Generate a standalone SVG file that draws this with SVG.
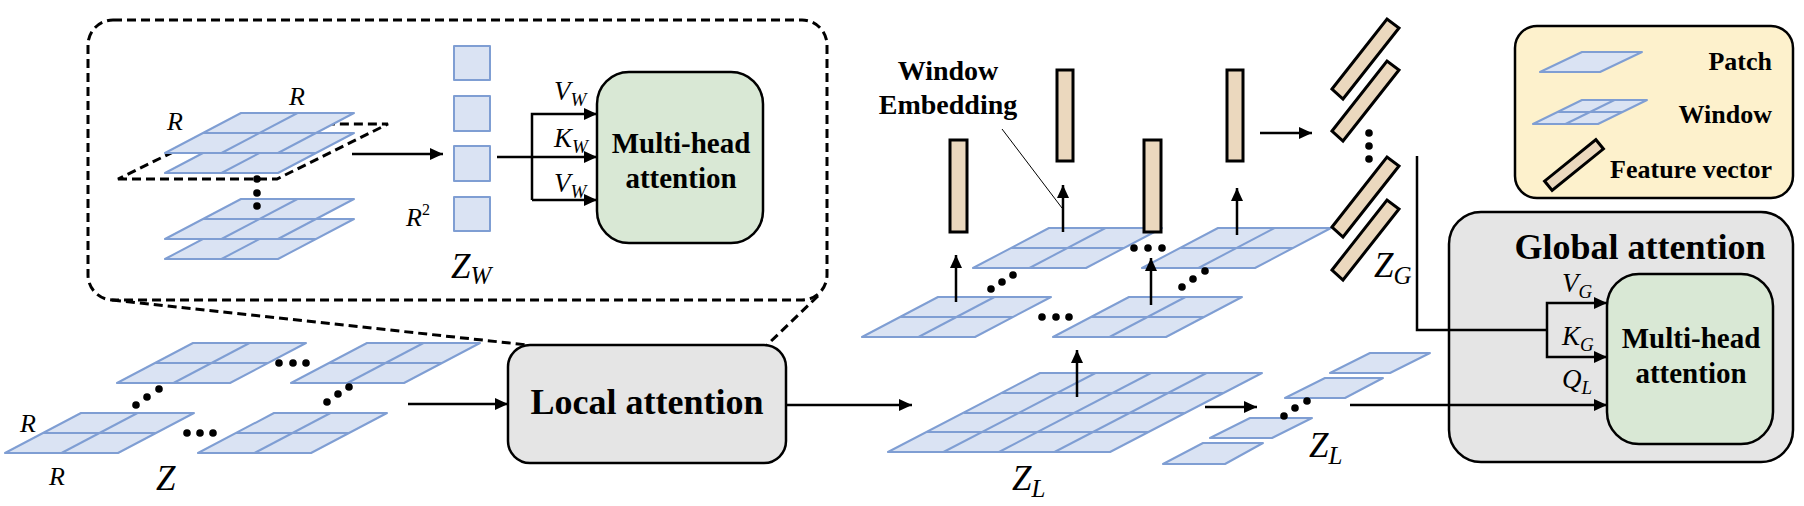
<svg xmlns="http://www.w3.org/2000/svg" xmlns:xlink="http://www.w3.org/1999/xlink" width="1804" height="506" viewBox="0 0 1804 506">
<style>
.pat{fill:#dae3f3;stroke:#7f9ed3;stroke-width:2;stroke-linejoin:round}
.pl{fill:none;stroke:#7f9ed3;stroke-width:2}
.fv{fill:#ebd8be;stroke:#000;stroke-width:3}
.box{stroke:#000;stroke-width:2.5}
.dash{fill:none;stroke:#000;stroke-width:3;stroke-dasharray:9 5}
.ar{fill:none;stroke:#000;stroke-width:2.5;marker-end:url(#ah)}
.ln{fill:none;stroke:#000;stroke-width:2.5}
.b{font-family:"Liberation Serif","Times New Roman",serif;font-weight:bold;fill:#000}
.m{font-family:"Liberation Serif","Times New Roman",serif;font-style:italic;fill:#000}
.dot{fill:#000}
</style>
<defs>
<marker id="ah" markerUnits="userSpaceOnUse" markerWidth="13" markerHeight="12" refX="13" refY="6" orient="auto">
<path d="M0,0 L13,6 L0,12 z" fill="#000"/>
</marker>
<g id="win">
<polygon class="pat" points="0,40 113,40 189,0 76,0"/>
<line class="pl" x1="38" y1="20" x2="151" y2="20"/>
<line class="pl" x1="56.5" y1="40" x2="132.5" y2="0"/>
</g>
<polygon id="fvs" class="fv" points="0,70 55,0 67,9 11,80"/>
</defs>

<!-- Input Z windows -->
<g id="input-z">
<use xlink:href="#win" transform="translate(117,343)"/>
<use xlink:href="#win" transform="translate(291,343)"/>
<use xlink:href="#win" transform="translate(5,413)"/>
<use xlink:href="#win" transform="translate(198,413)"/>
<circle class="dot" cx="187" cy="433" r="3.8"/><circle class="dot" cx="200" cy="433" r="3.8"/><circle class="dot" cx="213" cy="433" r="3.8"/>
<circle class="dot" cx="279" cy="363" r="3.8"/><circle class="dot" cx="293" cy="363" r="3.8"/><circle class="dot" cx="306" cy="363" r="3.8"/>
<circle class="dot" cx="136" cy="405" r="3.8"/><circle class="dot" cx="147" cy="397" r="3.8"/><circle class="dot" cx="159" cy="389" r="3.8"/>
<circle class="dot" cx="327" cy="402" r="3.8"/><circle class="dot" cx="338" cy="394" r="3.8"/><circle class="dot" cx="349" cy="387" r="3.8"/>
<text class="m" x="20" y="432" font-size="26">R</text>
<text class="m" x="49" y="485" font-size="26">R</text>
<text class="m" x="156" y="490" font-size="35">Z</text>
</g>

<!-- Zoomed-in local window detail -->
<g id="local-detail">
<rect class="dash" x="88" y="20" width="739" height="280" rx="25"/>
<polygon class="dash" points="118,179 277,179 388,124 230,124"/>
<use xlink:href="#win" transform="translate(165,133)"/>
<use xlink:href="#win" transform="translate(165,113)"/>
<use xlink:href="#win" transform="translate(165,219)"/>
<use xlink:href="#win" transform="translate(165,199)"/>
<circle class="dot" cx="257" cy="179" r="3.8"/><circle class="dot" cx="257" cy="193" r="3.8"/><circle class="dot" cx="257" cy="206" r="3.8"/>
<text class="m" x="167" y="130" font-size="26">R</text>
<text class="m" x="289" y="105" font-size="26">R</text>
</g>

<g id="zw">
<rect class="pat" x="454" y="46" width="36" height="34"/>
<rect class="pat" x="454" y="96" width="36" height="35"/>
<rect class="pat" x="454" y="146" width="36" height="35"/>
<rect class="pat" x="454" y="197" width="36" height="34"/>
<text class="m" x="406" y="226" font-size="26">R<tspan font-size="16" font-style="normal" dy="-11">2</tspan></text>
<text class="m" x="451" y="278" font-size="35">Z<tspan font-size="25" dy="6">W</tspan></text>
</g>

<g id="mha-local">
<rect class="box" x="597" y="72" width="166" height="171" rx="32" fill="#d9e8d5"/>
<text class="b" x="681" y="153" font-size="29" text-anchor="middle">Multi-head</text>
<text class="b" x="681" y="188" font-size="29" text-anchor="middle">attention</text>
<text class="m" x="554" y="100" font-size="27">V<tspan font-size="19" dy="6">W</tspan></text>
<text class="m" x="554" y="147" font-size="27">K<tspan font-size="19" dy="6">W</tspan></text>
<text class="m" x="554" y="192" font-size="27">V<tspan font-size="19" dy="6">W</tspan></text>
</g>

<g id="local-attention">
<rect class="box" x="508" y="345" width="278" height="118" rx="22" fill="#e5e5e5"/>
<text class="b" x="647" y="414" font-size="36" text-anchor="middle">Local attention</text>
</g>

<!-- Windows after local attention -->
<g id="windows-embed">
<use xlink:href="#win" transform="translate(862,297)"/>
<use xlink:href="#win" transform="translate(1053,297)"/>
<use xlink:href="#win" transform="translate(973,228)"/>
<use xlink:href="#win" transform="translate(1142,228)"/>
<circle class="dot" cx="1134" cy="248" r="3.8"/><circle class="dot" cx="1148" cy="248" r="3.8"/><circle class="dot" cx="1162" cy="248" r="3.8"/>
<circle class="dot" cx="1042" cy="317" r="3.8"/><circle class="dot" cx="1056" cy="317" r="3.8"/><circle class="dot" cx="1069" cy="317" r="3.8"/>
<circle class="dot" cx="991" cy="289" r="3.8"/><circle class="dot" cx="1002" cy="282" r="3.8"/><circle class="dot" cx="1013" cy="275" r="3.8"/>
<circle class="dot" cx="1182" cy="287" r="3.8"/><circle class="dot" cx="1193" cy="279" r="3.8"/><circle class="dot" cx="1205" cy="271" r="3.8"/>
<rect class="fv" x="950" y="140" width="17" height="92"/>
<rect class="fv" x="1057" y="70" width="16" height="91"/>
<rect class="fv" x="1144" y="140" width="17" height="92"/>
<rect class="fv" x="1227" y="70" width="16" height="91"/>
<text class="b" x="948" y="80" font-size="28" text-anchor="middle">Window</text>
<text class="b" x="948" y="114" font-size="28" text-anchor="middle">Embedding</text>
<line x1="1002" y1="129" x2="1062" y2="208" stroke="#000" stroke-width="1"/>
</g>

<g id="zg">
<use xlink:href="#fvs" transform="translate(1332,19)"/>
<use xlink:href="#fvs" transform="translate(1332,61)"/>
<use xlink:href="#fvs" transform="translate(1332,157)"/>
<use xlink:href="#fvs" transform="translate(1332,200)"/>
<circle class="dot" cx="1369" cy="133" r="3.8"/><circle class="dot" cx="1369" cy="146" r="3.8"/><circle class="dot" cx="1369" cy="159" r="3.8"/>
<text class="m" x="1374" y="277" font-size="35">Z<tspan font-size="25" dy="7">G</tspan></text>
</g>

<!-- Z_L big grid -->
<g id="zl-grid">
<polygon class="pat" points="888,452 1110,452 1262,373 1040,373"/>
<line class="pl" x1="1002" y1="393" x2="1224" y2="393"/>
<line class="pl" x1="964" y1="413" x2="1186" y2="413"/>
<line class="pl" x1="926" y1="432" x2="1148" y2="432"/>
<line class="pl" x1="943.5" y1="452" x2="1095.5" y2="373"/>
<line class="pl" x1="999" y1="452" x2="1151" y2="373"/>
<line class="pl" x1="1054.5" y1="452" x2="1206.5" y2="373"/>
<text class="m" x="1012" y="490" font-size="35">Z<tspan font-size="25" dy="7">L</tspan></text>
</g>

<g id="zl-patches">
<polygon class="pat" points="1163,464 1225,464 1263,443 1203,443"/>
<polygon class="pat" points="1210,438 1272,438 1312,418 1250,418"/>
<polygon class="pat" points="1285,398 1345,398 1383,378 1325,378"/>
<polygon class="pat" points="1330,373 1390,373 1430,353 1370,353"/>
<circle class="dot" cx="1284" cy="416" r="3.8"/><circle class="dot" cx="1295" cy="408" r="3.8"/><circle class="dot" cx="1307" cy="401" r="3.8"/>
<text class="m" x="1309" y="457" font-size="35">Z<tspan font-size="25" dy="7">L</tspan></text>
</g>

<g id="global-attention">
<rect class="box" x="1449" y="212" width="344" height="250" rx="32" fill="#e5e5e5"/>
<text class="b" x="1640" y="259" font-size="36" text-anchor="middle">Global attention</text>
<rect class="box" x="1607" y="274" width="166" height="170" rx="32" fill="#d9e8d5"/>
<text class="b" x="1691" y="348" font-size="29" text-anchor="middle">Multi-head</text>
<text class="b" x="1691" y="383" font-size="29" text-anchor="middle">attention</text>
<text class="m" x="1562" y="292" font-size="27">V<tspan font-size="19" dy="6">G</tspan></text>
<text class="m" x="1562" y="345" font-size="27">K<tspan font-size="19" dy="6">G</tspan></text>
<text class="m" x="1562" y="388" font-size="27">Q<tspan font-size="19" dy="6">L</tspan></text>
</g>

<g id="legend">
<rect class="box" x="1515" y="26" width="278" height="172" rx="22" fill="#fdf1cc"/>
<polygon class="pat" points="1540,72 1600,72 1642,52 1582,52"/>
<polygon class="pat" points="1533,124 1598,124 1647,100 1582,100"/>
<line class="pl" x1="1557.5" y1="112" x2="1622.5" y2="112"/>
<line class="pl" x1="1565.5" y1="124" x2="1614.5" y2="100"/>
<rect class="fv" x="-33" y="-6" width="66" height="12" transform="translate(1574,165) rotate(-39)"/>
<text class="b" x="1772" y="70" font-size="26" text-anchor="end">Patch</text>
<text class="b" x="1772" y="123" font-size="26" text-anchor="end">Window</text>
<text class="b" x="1772" y="178" font-size="26" text-anchor="end">Feature vector</text>
</g>

<g id="connectors">
<line class="dash" x1="112" y1="300" x2="528" y2="345"/>
<line class="dash" x1="818" y1="296" x2="767" y2="345"/>
<path class="ar" d="M352,154 H443"/>
<path class="ar" d="M532,200 V114 H597"/>
<path class="ar" d="M532,200 H597"/>
<path class="ar" d="M497,157 H597"/>
<path class="ar" d="M408,404 H508"/>
<path class="ar" d="M786,405 H912"/>
<path class="ar" d="M956,302 V255"/>
<path class="ar" d="M1063,232 V185"/>
<path class="ar" d="M1151,305 V258"/>
<path class="ar" d="M1237,235 V188"/>
<path class="ar" d="M1260,133 H1312"/>
<path class="ar" d="M1077,397 V350"/>
<path class="ar" d="M1205,407 H1257"/>
<path class="ln" d="M1417,156 V330 H1547"/>
<path class="ar" d="M1547,330 V303 H1607"/>
<path class="ar" d="M1547,330 V357 H1607"/>
<path class="ar" d="M1350,405 H1607"/>
</g>
</svg>
